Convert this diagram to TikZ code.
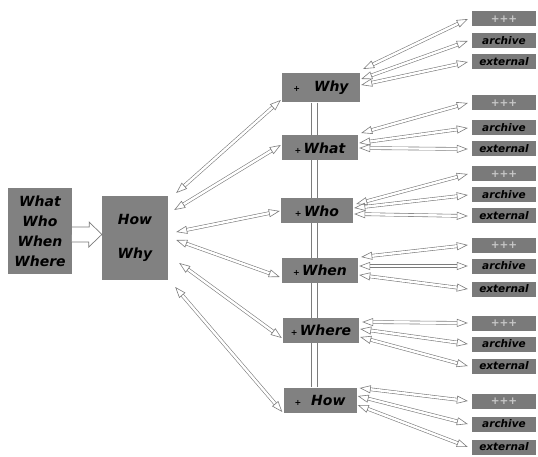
\documentclass[tikz,border=0pt]{standalone}
\usepackage{fontspec}
\setsansfont{DejaVu Sans}
\usepackage{tikz}
\usetikzlibrary{arrows.meta,backgrounds}
\definecolor{boxgray}{HTML}{818181}
\definecolor{tabgray}{HTML}{7A7A7A}
\definecolor{linegray}{HTML}{7C7C7C}
\definecolor{faint}{HTML}{C8C8C8}
\newcommand{\qmark}{{\fontsize{8}{8}\selectfont +}}

\begin{document}
\begin{tikzpicture}[x=1pt,y=-1pt,
  lbl/.style={font=\sffamily\bfseries\itshape\fontsize{14}{20}\selectfont},
  bigbox/.style={lbl,fill=boxgray,inner sep=0pt,align=center},
  qbox/.style={lbl,fill=boxgray,minimum width=76pt,minimum height=25pt,inner sep=0pt},
  tab/.style={fill=tabgray,minimum width=64pt,minimum height=15pt,inner sep=0pt,
    font=\sffamily\bfseries\itshape\fontsize{10.5}{12}\selectfont},
  link/.style={draw=linegray,line width=0.6pt,double=white,double distance=2.4pt,
    {Triangle[open,length=11pt,width=8pt]}-{Triangle[open,length=11pt,width=8pt]}},
  block/.style={draw=linegray,line width=0.7pt,fill=white,line join=miter}]
  \useasboundingbox (0,0) rectangle (538,457);
  \node[bigbox,minimum width=64pt,minimum height=86pt] (ask) at (40,231) {What\\Who\\When\\Where};
  \node[bigbox,minimum width=66pt,minimum height=84pt] (hw) at (135,238) {How\\[14pt]Why};
  \node[qbox,minimum width=78pt,minimum height=29pt] (why) at (321,88) {\qmark\hspace{14pt}Why};
  \node[qbox] (what) at (320,148) {\qmark\,What};
  \node[qbox,minimum width=72pt] (who) at (317,211) {\qmark\,Who\hspace{6pt}};
  \node[qbox] (when) at (320,270) {\qmark\,When};
  \node[qbox] (where) at (321,330) {\qmark\,Where};
  \node[qbox,minimum width=73pt] (how) at (320,400) {\qmark\hspace{10pt}How\hspace{6pt}};
  \foreach \q/\ya/\yb/\yc in {why/19/41/62,what/103/128/149,who/174/195/216,
      when/245/266/289,where/323/344/366,how/401/424/447} {
    \node[tab,text=faint] (\q-p) at (504,\ya) {+++};
    \node[tab] (\q-a) at (504,\yb) {archive};
    \node[tab] (\q-e) at (504,\yc) {external};
  }
  \begin{scope}[on background layer]
    \draw[linegray,line width=0.7pt] ([xshift=-10pt]why.south) -- ([xshift=-10pt]why.south |- how.north);
    \draw[linegray,line width=0.7pt] ([xshift=-4pt]why.south) -- ([xshift=-4pt]why.south |- how.north);
  \end{scope}
  \draw[block] ([yshift=4pt]ask.east) -- ++(17,0) -- ++(0,-5)
    -- ([yshift=-3.5pt]ask.east -| hw.west) -- ++(-13,12.5) -- ++(0,-5) -- ++(-17,0);
  \draw[link] ([xshift=8pt,yshift=45pt]hw.east) -- ([xshift=-1pt,yshift=-12pt]why.west);
  \draw[link] ([xshift=6pt,yshift=28pt]hw.east) -- ([xshift=-1pt,yshift=3pt]what.west);
  \draw[link] ([xshift=8pt,yshift=6pt]hw.east) -- ([xshift=-1pt]who.west);
  \draw[link] ([xshift=8pt,yshift=-2pt]hw.east) -- ([xshift=-2pt,yshift=-7pt]when.west);
  \draw[link] ([xshift=11pt,yshift=-25pt]hw.east) -- ([xshift=-1pt,yshift=-8pt]where.west);
  \draw[link] ([xshift=7pt,yshift=-49pt]hw.east) -- ([xshift=-1pt,yshift=-12pt]how.west);
  \foreach \q/\da/\db/\dc in {why/19/9/3,what/15/5/0,who/7/3/-3,
      when/13/4/-5,where/8/1/-7,how/12/4/-5} {
    \draw[link] ([xshift=3pt,yshift=\da pt]\q.east) -- ([xshift=-4pt]\q-p.west);
    \draw[link] ([xshift=1pt,yshift=\db pt]\q.east) -- ([xshift=-4pt]\q-a.west);
    \draw[link] ([xshift=1pt,yshift=\dc pt]\q.east) -- ([xshift=-4pt]\q-e.west);
  }
\end{tikzpicture}
\end{document}
